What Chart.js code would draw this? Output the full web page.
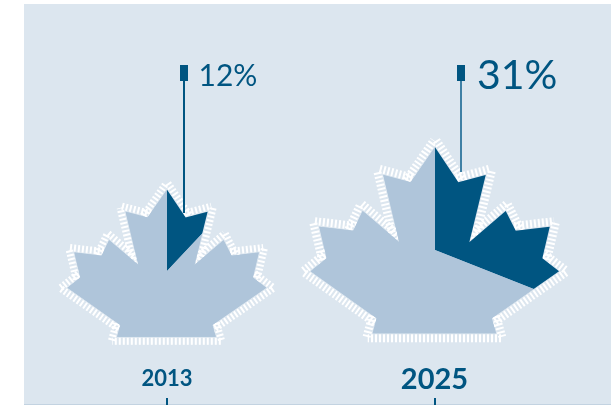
<!DOCTYPE html>
<html>
<head>
<meta charset="utf-8">
<style>
  html, body { margin: 0; padding: 0; width: 616px; height: 405px; overflow: hidden; background: #fff; }
  #panel { position: absolute; left: 24px; top: 4px; width: 587px; height: 401px; background: #dce6ef; border-bottom: 1px solid #c3d3e1; box-sizing: border-box; }
  canvas { position: absolute; }
  .mark { position: absolute; background: #005581; }
  .share, .year { position: absolute; color: #005581; white-space: nowrap; font-family: Lato, sans-serif; line-height: 1; }
  .share { font-weight: 400; }
  .year { font-weight: 700; transform: translateX(-50%); }
</style>
</head>
<body>
<div id="panel"></div>
<canvas id="leaf-2013" style="left:53px;top:157px"></canvas>
<canvas id="leaf-2025" style="left:295px;top:110px"></canvas>
<div id="overlay"></div>
<script src="https://cdn.jsdelivr.net/npm/chart.js@4"></script>
<script>
const YEARS = ["2013", "2025"];
const SHARES = [12, 31];
const SHARE_LABELS = ["12%", "31%"];

const DARK = "#005581";
const LIGHT = "#afc5da";

// leaf outline, px from the pie centre at the 2025 size
const LEAF_OUTLINE = [
  [0, -102.7], [23.3, -67.7], [50.7, -75], [34.3, -7.7], [70.7, -39], [80.7, -19.3],
  [114.7, -23.3], [107.3, 8.3], [124, 21.3], [56.7, 68.3], [61, 83.3],
  [-62.3, 83.3], [-58.3, 68.3], [-124.3, 21.3], [-108.3, 8.3], [-115.7, -23.3], [-81.7, -19.3],
  [-72.3, -39], [-35.7, -7.7], [-51.7, -75], [-24.3, -67.7]
];

const LAYOUT = {
  "2013": { canvas: "leaf-2013", size: 228, scaleX: 0.8, scaleY: 0.79, hatch: 7 },
  "2025": { canvas: "leaf-2025", size: 280, scaleX: 1, scaleY: 1, hatch: 8 }
};

const outlinePoints = (chart, opts) => {
  const arc = chart.getDatasetMeta(0).data[0];
  return LEAF_OUTLINE.map(([x, y]) => [arc.x + x * opts.scaleX, arc.y + y * opts.scaleY]);
};

const leafPlugin = {
  id: "leaf",
  beforeDatasetsDraw(chart, args, opts) {
    const { ctx } = chart;
    const pts = outlinePoints(chart, opts);

    // white hatching, one run per edge, sits under the fill
    ctx.save();
    ctx.strokeStyle = "#fff";
    ctx.lineWidth = opts.hatch;
    ctx.setLineDash([2, 2]);
    pts.forEach((a, i) => {
      const b = pts[(i + 1) % pts.length];
      const dx = b[0] - a[0];
      const dy = b[1] - a[1];
      const len = Math.hypot(dx, dy);
      const ux = dx / len;
      const uy = dy / len;
      const off = 1 + opts.hatch / 2;
      ctx.beginPath();
      ctx.moveTo(a[0] - ux * 5 + uy * off, a[1] - uy * 5 - ux * off);
      ctx.lineTo(b[0] + ux * 5 + uy * off, b[1] + uy * 5 - ux * off);
      ctx.stroke();
    });
    ctx.restore();

    // background fill covers hatching that runs into the notches
    ctx.save();
    ctx.beginPath();
    pts.forEach((p, i) => (i ? ctx.lineTo(p[0], p[1]) : ctx.moveTo(p[0], p[1])));
    ctx.closePath();
    ctx.fillStyle = LIGHT;
    ctx.fill();
    ctx.clip();
  },
  afterDatasetsDraw(chart) {
    chart.ctx.restore();
  }
};

const buildChart = (year, share) => {
  const opts = LAYOUT[year];
  const canvas = document.getElementById(opts.canvas);
  canvas.width = opts.size;
  canvas.height = opts.size;
  canvas.style.width = `${opts.size}px`;
  canvas.style.height = `${opts.size}px`;
  return new Chart(canvas, {
    type: "pie",
    data: {
      labels: [`${year} share`, "Rest"],
      datasets: [{
        data: [share, 100 - share],
        backgroundColor: [DARK, LIGHT],
        borderWidth: 0
      }]
    },
    options: {
      responsive: false,
      animation: false,
      layout: { padding: 0 },
      plugins: { legend: { display: false }, tooltip: { enabled: false }, leaf: opts }
    },
    plugins: [leafPlugin]
  });
};

YEARS.forEach((year, i) => buildChart(year, SHARES[i]));

// leaders, year labels and axis ticks
const MARKS = [
  { stemX: 183, stemW: 1.5, stemColor: DARK, stemBottom: 213, flagX: 179.5, flagW: 8.5, shareX: 198.5, shareY: 59, shareSize: 30, tickX: 166, yearX: 167, yearSize: 22, yearY: 367 },
  { stemX: 460, stemW: 2, stemColor: "#3f80a5", stemBottom: 172, flagX: 457, flagW: 8, shareX: 477, shareY: 53, shareSize: 41, tickX: 433.5, yearX: 434.5, yearSize: 29, yearY: 363 }
];

const overlay = document.getElementById("overlay");
const addDiv = (cls, css, text) => {
  const el = document.createElement("div");
  el.className = cls;
  el.style.cssText = css;
  if (text) el.textContent = text;
  overlay.appendChild(el);
};

MARKS.forEach((m, i) => {
  addDiv("mark", `left:${m.stemX}px;top:70px;width:${m.stemW}px;height:${m.stemBottom - 70}px;background:${m.stemColor}`);
  addDiv("mark", `left:${m.flagX}px;top:65px;width:${m.flagW}px;height:16px`);
  addDiv("share", `left:${m.shareX}px;top:${m.shareY}px;font-size:${m.shareSize}px`, SHARE_LABELS[i]);
  addDiv("year", `left:${m.yearX}px;top:${m.yearY}px;font-size:${m.yearSize}px`, YEARS[i]);
  addDiv("mark", `left:${m.tickX}px;top:398px;width:2px;height:7px`);
});
</script>
</body>
</html>
